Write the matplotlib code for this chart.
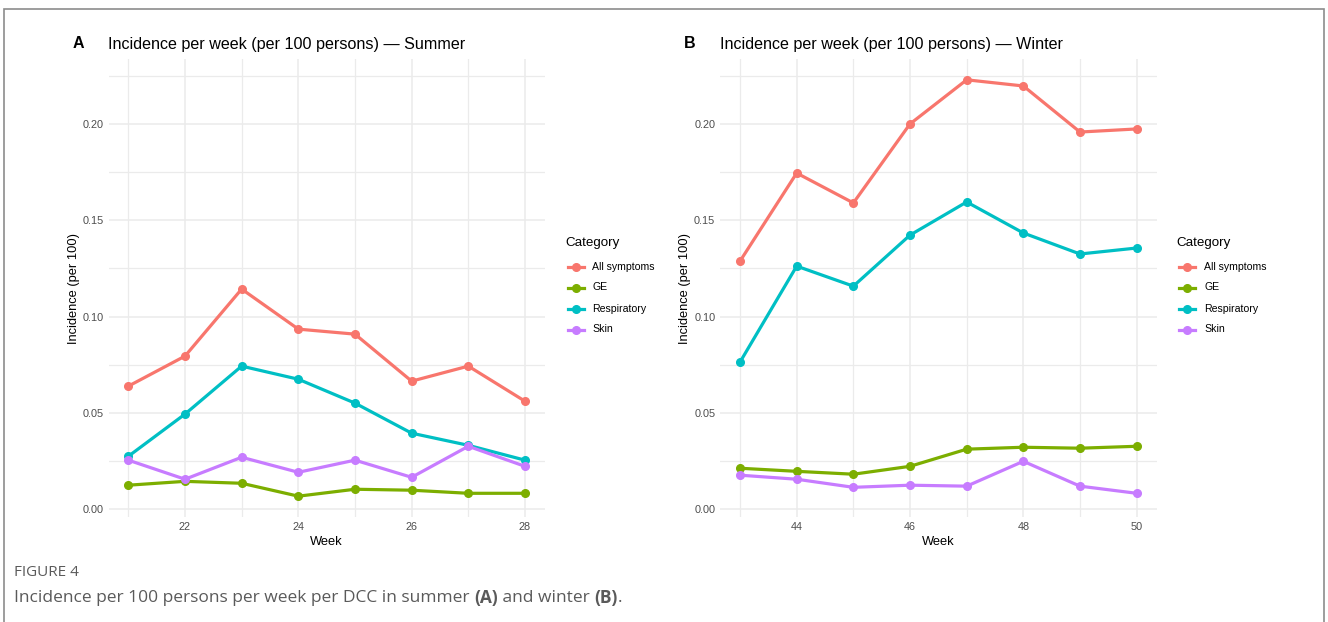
import matplotlib
matplotlib.use("Agg")
import matplotlib.pyplot as plt
from matplotlib.lines import Line2D
from matplotlib.patches import Rectangle
import numpy as np

# ---------------- data ----------------
categories = ["All symptoms", "GE", "Respiratory", "Skin"]
colors = ["#F8766D", "#7CAE00", "#00BFC4", "#C77CFF"]

summer_weeks = [21, 22, 23, 24, 25, 26, 27, 28]
summer_all = [0.0639, 0.0795, 0.1143, 0.0935, 0.0909, 0.0665, 0.0743, 0.0561]
summer_ge = [0.0125, 0.0145, 0.0135, 0.0068, 0.0104, 0.0099, 0.0083, 0.0083]
summer_resp = [0.0275, 0.0494, 0.0743, 0.0675, 0.0551, 0.0395, 0.0332, 0.0255]
summer_skin = [0.0255, 0.0156, 0.0270, 0.0192, 0.0255, 0.0166, 0.0327, 0.0223]

winter_weeks = [43, 44, 45, 46, 47, 48, 49, 50]
winter_all = [0.1288, 0.1745, 0.1590, 0.2000, 0.2229, 0.2197, 0.1958, 0.1974]
winter_ge = [0.0213, 0.0197, 0.0182, 0.0223, 0.0312, 0.0322, 0.0317, 0.0327]
winter_resp = [0.0764, 0.1262, 0.1158, 0.1423, 0.1595, 0.1434, 0.1325, 0.1356]
winter_skin = [0.0177, 0.0156, 0.0114, 0.0125, 0.0120, 0.0249, 0.0120, 0.0083]

summer_ticks = [22, 24, 26, 28]
winter_ticks = [44, 46, 48, 50]
y_ticks = [0.00, 0.05, 0.10, 0.15, 0.20]
y_ticklabels = ["0.00", "0.05", "0.10", "0.15", "0.20"]

titles = ["Incidence per week (per 100 persons) \u2014 Summer",
          "Incidence per week (per 100 persons) \u2014 Winter"]
tags = ["A", "B"]

# ---------------- style ----------------
plt.rcParams["font.family"] = ["Liberation Sans", "DejaVu Sans"]
W, H = 1328, 622
fig = plt.figure(figsize=(W / 100, H / 100), dpi=100)

GRID = "#EBEBEB"
TXT = "#4D4D4D"

all_vals = np.concatenate([summer_all, summer_ge, summer_resp, summer_skin,
                           winter_all, winter_ge, winter_resp, winter_skin])
ymin, ymax = all_vals.min(), all_vals.max()
ypad = 0.05 * (ymax - ymin)
ylim = (ymin - ypad, ymax + ypad)

def px(x0, y0, x1, y1):
    return [x0 / W, 1 - y1 / H, (x1 - x0) / W, (y1 - y0) / H]

panels = [
    dict(rect=px(108.5, 59, 544.8, 517), weeks=summer_weeks,
         series=[summer_all, summer_ge, summer_resp, summer_skin], ticks=summer_ticks),
    dict(rect=px(720.2, 59, 1156.5, 517), weeks=winter_weeks,
         series=[winter_all, winter_ge, winter_resp, winter_skin], ticks=winter_ticks),
]

for i, p in enumerate(panels):
    ax = fig.add_axes(p["rect"])
    weeks = p["weeks"]
    for vals, col, lab in zip(p["series"], colors, categories):
        ax.plot(weeks, vals, color=col, lw=2.3, marker="o", ms=5.5,
                solid_capstyle="butt", label=lab, zorder=3)
    xr = max(weeks) - min(weeks)
    ax.set_xlim(min(weeks) - 0.05 * xr, max(weeks) + 0.05 * xr)
    ax.set_ylim(*ylim)
    ax.set_xticks(p["ticks"])
    ax.set_xticks([w for w in weeks if w not in p["ticks"]], minor=True)
    ax.set_yticks(y_ticks)
    ax.set_yticklabels(y_ticklabels)
    ax.set_yticks([0.025, 0.075, 0.125, 0.175, 0.225], minor=True)
    ax.grid(True, which="major", color=GRID, lw=1.1, zorder=0)
    ax.grid(True, which="minor", color=GRID, lw=0.9, zorder=0)
    for s in ax.spines.values():
        s.set_visible(False)
    ax.tick_params(which="both", length=0)
    ax.tick_params(axis="both", labelsize=7.8, labelcolor=TXT, pad=3.5)
    ax.set_xlabel("Week", fontsize=9.3, color="#000000", labelpad=3)
    ax.set_ylabel("Incidence (per 100)", fontsize=9.3, color="#000000", labelpad=2)
    ax.set_axisbelow(True)

    left_px = p["rect"][0] * W
    fig.text((left_px - 36) / W, 1 - 44 / H, tags[i], fontsize=11.5, fontweight="bold",
             ha="left", va="center", color="#000000")
    fig.text(left_px / W, 1 - 44 / H, titles[i], fontsize=11.6, ha="left",
             va="center", color="#000000")

    # legend
    lx = left_px + 458.5
    fig.text((lx - 2) / W, 1 - 243 / H, "Category", fontsize=9.6, ha="left", va="center")
    for k, (lab, col) in enumerate(zip(categories, colors)):
        yy = 1 - (266.5 + 21 * k) / H
        fig.add_artist(Line2D([(lx + 0.5) / W, (lx + 16.5) / W], [yy, yy], color=col,
                              lw=2.3, transform=fig.transFigure))
        fig.add_artist(Line2D([(lx + 8.5) / W], [yy], color=col, marker="o", ms=5.5,
                              transform=fig.transFigure))
        fig.text((lx + 25.5) / W, yy, lab, fontsize=7.6, ha="left", va="center", color="#000000")

# frame
fig.add_artist(Rectangle((4 / W, -0.05), (1324 - 4) / W, 1.05 - 9 / H,
                         transform=fig.transFigure, fill=False, ec="#8C8C8C", lw=1.2))

# caption
CAP = "#5A5A5A"
fig.text(14 / W, 1 - 572 / H, "FIGURE 4", fontsize=11, family=["Open Sans", "DejaVu Sans"],
         color=CAP, ha="left", va="center")

pieces = [("Incidence per 100 persons per week per DCC in summer ", "normal"),
          ("(A)", "bold"), (" and winter ", "normal"), ("(B)", "bold"), (".", "normal")]
fig.canvas.draw()
renderer = fig.canvas.get_renderer()
xcur = 14
for txt, wt in pieces:
    t = fig.text(xcur / W, 1 - 598 / H, txt, fontsize=12.5,
                 family=["Open Sans", "DejaVu Sans"], fontweight=wt, color=CAP,
                 ha="left", va="center")
    bb = t.get_window_extent(renderer=renderer)
    xcur += bb.width

fig.savefig("out.png", dpi=100)
